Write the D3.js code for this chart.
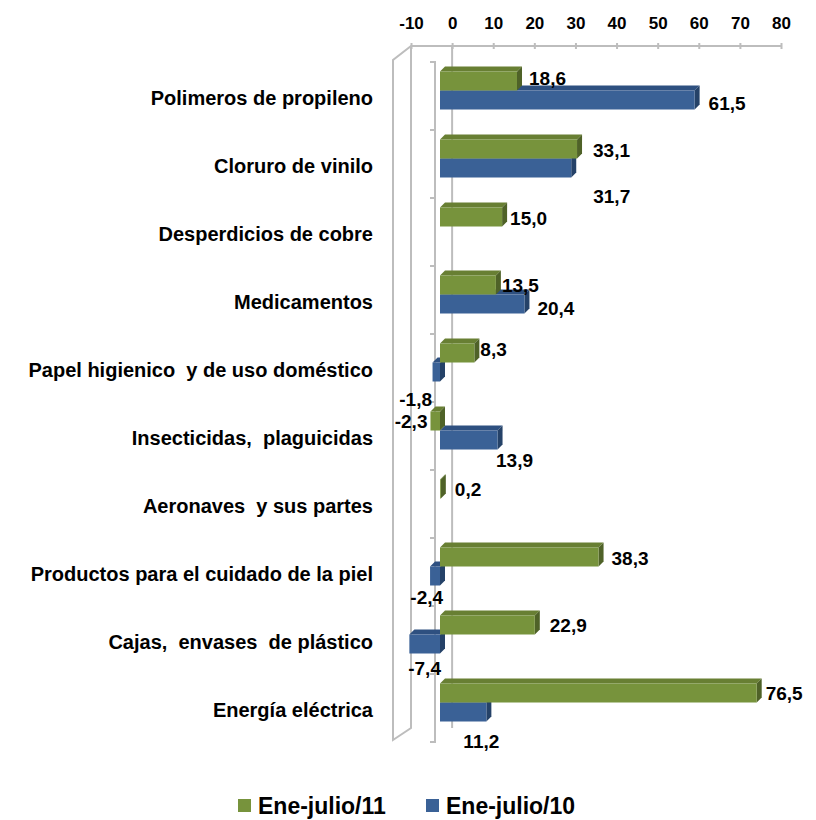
<!DOCTYPE html>
<html>
<head>
<meta charset="utf-8">
<script src="https://cdn.jsdelivr.net/npm/d3@7"></script>
<style>
  html, body { margin: 0; padding: 0; background: #ffffff; }
  svg { display: block; font-family: "Liberation Sans", Arial, sans-serif; font-weight: bold; }
</style>
</head>
<body>
<svg id="chart" width="816" height="820"></svg>
<script>
// ---- data ----
const categories = [
  "Polimeros de propileno",
  "Cloruro de vinilo",
  "Desperdicios de cobre",
  "Medicamentos",
  "Papel higienico  y de uso doméstico",
  "Insecticidas,  plaguicidas",
  "Aeronaves  y sus partes",
  "Productos para el cuidado de la piel",
  "Cajas,  envases  de plástico",
  "Energía eléctrica"
];
const seriesNames = ["Ene-julio/11", "Ene-julio/10"];
const values2011 = [18.6, 33.1, 15.0, 13.5, 8.3, -2.3, 0.2, 38.3, 22.9, 76.5];
const values2010 = [61.5, 31.7, null, 20.4, -1.8, 13.9, null, -2.4, -7.4, 11.2];
const tickValues = [-10, 0, 10, 20, 30, 40, 50, 60, 70, 80];

// ---- label nudges (style only) ----
const nudge2011 = [[3,-3],[7,1],[-1,1],[-3,0],[-3,-4],[0,0],[5,0],[4,1],[6,0],[0,0]];
const nudge2010 = [[5,3],[13,28],[0,0],[4,4],[2.5,27],[-10.5,20],[0,0],[16,21],[34.6,24],[-32,29]];

// ---- styles ----
const colors = {
  green: { front: "#77933C", top: "#687f33", side: "#4F6228" },
  blue:  { front: "#3A6196", top: "#2E5080", side: "#254268" }
};
const grid = "#BDBDBD";
const depth = 5;

const svg = d3.select("#chart");

// scales
const xBack = d3.scaleLinear().domain([-10, 80]).range([411, 781]);
const xFront = d3.scaleLinear().domain([0, 80]).range([440, 440 + 80 * 4.14]);
const y = d3.scaleBand().domain(categories).range([62, 742]).padding(0);
const barH = 19;

// left wall
const wall = svg.append("g").attr("fill", "none").attr("stroke", grid).attr("stroke-width", 2);
wall.append("path").attr("d", "M411,46 L393,60 L393,740 L411,728 Z");

// zero gridline on back wall
svg.append("line")
  .attr("x1", xBack(0)).attr("x2", xBack(0))
  .attr("y1", 46).attr("y2", 728)
  .attr("stroke", grid).attr("stroke-width", 2);

// top axis
const axis = svg.append("g").attr("transform", "translate(0,46)")
  .call(d3.axisTop(xBack).tickValues(tickValues).tickSize(3).tickPadding(14).tickFormat(d => String(d)));
axis.select(".domain").attr("stroke", grid).attr("stroke-width", 2).attr("d", `M${xBack(-10)},0H${xBack(80)}`);
axis.selectAll(".tick line").attr("stroke", grid).attr("stroke-width", 2).attr("y1", 3);
axis.selectAll(".tick text")
  .attr("fill", "#000").attr("font-size", 17).attr("font-weight", "bold")
  .attr("font-family", "'Liberation Sans', Arial, sans-serif");

// front vertical axis
svg.append("line")
  .attr("x1", 435).attr("x2", 435).attr("y1", 62).attr("y2", 742)
  .attr("stroke", grid).attr("stroke-width", 2);
const bounds = categories.map(c => y(c)).concat([y.range()[1]]);
svg.append("g").selectAll("line").data(bounds).join("line")
  .attr("x1", 430).attr("x2", 436)
  .attr("y1", d => d).attr("y2", d => d)
  .attr("stroke", grid).attr("stroke-width", 2);

// category labels
svg.append("g").selectAll("text").data(categories).join("text")
  .attr("x", 373)
  .attr("y", d => y(d) + y.bandwidth() / 2 + 2)
  .attr("dy", "0.35em")
  .attr("text-anchor", "end")
  .attr("font-size", 20)
  .attr("fill", "#000")
  .style("white-space", "pre")
  .text(d => d);

// bars
function drawBars(values, offset, col) {
  const g = svg.append("g");
  values.forEach((v, i) => {
    if (v === null) return;
    const x0 = Math.min(xFront(0), xFront(v));
    const x1 = Math.max(xFront(0), xFront(v));
    const y0 = y(categories[i]) + offset;
    const y1 = y0 + barH;
    g.append("path")
      .attr("d", `M${x0},${y0}L${x0 + depth},${y0 - depth}L${x1 + depth},${y0 - depth}L${x1},${y0}Z`)
      .attr("fill", col.top);
    g.append("path")
      .attr("d", `M${x1},${y0}L${x1 + depth},${y0 - depth}L${x1 + depth},${y1 - depth}L${x1},${y1}Z`)
      .attr("fill", col.side);
    g.append("rect")
      .attr("x", x0).attr("y", y0).attr("width", x1 - x0).attr("height", barH)
      .attr("fill", col.front);
  });
}
drawBars(values2010, 28.5, colors.blue);
drawBars(values2011, 9.5, colors.green);

// value labels
const fmt = v => v.toFixed(1).replace(".", ",");
function drawLabels(values, offset, nudges) {
  const g = svg.append("g").attr("font-size", 19).attr("fill", "#000");
  values.forEach((v, i) => {
    if (v === null) return;
    const cy = y(categories[i]) + offset + barH / 2;
    const pos = v >= 0;
    const x = pos ? xFront(v) + depth + 4 : xFront(v) - 3;
    g.append("text")
      .attr("x", x + nudges[i][0])
      .attr("y", cy + nudges[i][1])
      .attr("dy", "0.35em")
      .attr("text-anchor", pos ? "start" : "end")
      .text(fmt(v));
  });
}
drawLabels(values2010, 28.5, nudge2010);
drawLabels(values2011, 9.5, nudge2011);

// legend
const legend = svg.append("g").attr("font-size", 23).attr("fill", "#000");
const legendItems = [
  { name: seriesNames[0], color: colors.green.front, x: 238 },
  { name: seriesNames[1], color: colors.blue.front, x: 426 }
];
legendItems.forEach(it => {
  legend.append("rect").attr("x", it.x).attr("y", 799).attr("width", 13).attr("height", 13).attr("fill", it.color);
  legend.append("text").attr("x", it.x + 20).attr("y", 814).text(it.name);
});
</script>
</body>
</html>
